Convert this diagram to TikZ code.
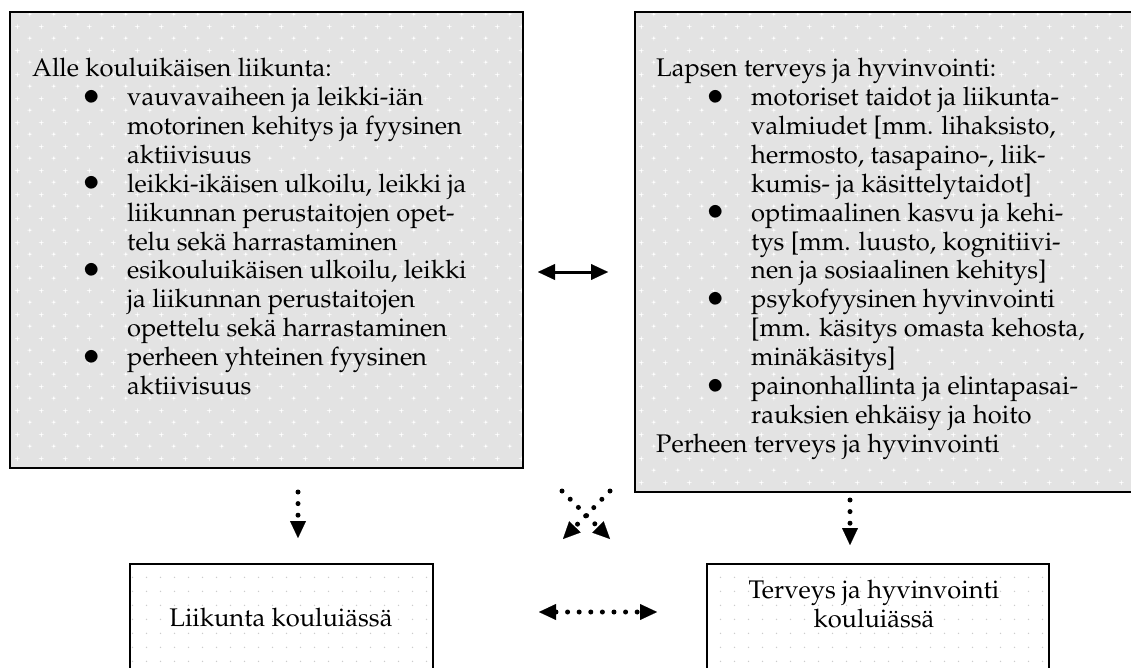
\documentclass[tikz,border=0pt]{standalone}
\usepackage[T1]{fontenc}
\usepackage{mathpazo}
\usetikzlibrary{arrows.meta,patterns.meta}

% light sparkles on the grey boxes
\tikzdeclarepattern{
  name=sparkle, type=uncolored,
  bounding box={(0pt,0pt) and (24pt,24pt)},
  tile size={(24pt,24pt)},
  code={
    \fill (6pt,6pt) circle (1.1pt);
    \fill (18pt,18pt) circle (1.1pt);
    \draw[line width=0.5pt] (3.5pt,6pt) -- (8.5pt,6pt) (6pt,3.5pt) -- (6pt,8.5pt);
    \draw[line width=0.5pt] (15.5pt,18pt) -- (20.5pt,18pt) (18pt,15.5pt) -- (18pt,20.5pt);
  }}
% faint dot grid on the white boxes
\tikzdeclarepattern{
  name=pinpoints, type=uncolored,
  bounding box={(0pt,0pt) and (14pt,14pt)},
  tile size={(14pt,14pt)},
  code={\fill (7pt,7pt) circle (0.8pt);}}

\newcommand\bodyfont{\fontsize{25.5}{28.9}\selectfont}
\newcommand\bigbullet{\raisebox{-3.5pt}{\scalebox{1.45}{\textbullet}}}
\newcommand\bitem{\hspace*{48pt}\makebox[47pt][l]{\bigbullet}}
\newcommand\cont{\hspace*{95pt}}

\tikzset{
  upperbox/.style={draw=black, line width=2.4pt, preaction={fill=gray!22},
    pattern=sparkle, pattern color=white, anchor=north west, inner sep=0pt},
  lowerbox/.style={draw=black, line width=2.2pt, preaction={fill=white},
    pattern=pinpoints, pattern color=gray!40, anchor=north west, inner sep=0pt},
  boxtext/.style={font=\bodyfont, inner sep=0pt, text=black},
  tip/.style={-{Triangle[length=17pt,width=16pt,line width=0.1pt]}},
  bothtips/.style={{Triangle[length=17pt,width=16pt,line width=0.1pt]}-{Triangle[length=17pt,width=16pt,line width=0.1pt]}},
  dotline/.style={line width=5pt, line cap=round, dash pattern=on 0pt off 11.6pt},
  solidline/.style={line width=3pt},
}

\begin{document}
\begin{tikzpicture}[x=1pt,y=-1pt]
\useasboundingbox (0,0) rectangle (1131,668);
\clip (0,0) rectangle (1131,668);

% boxes
\node[upperbox, minimum width=513pt, minimum height=456pt] (A) at (9,11) {};
\node[upperbox, minimum width=530pt, minimum height=480pt] (B) at (634,11) {};
\node[lowerbox, minimum width=303pt, minimum height=140pt] (C) at (129,563) {};
\node[lowerbox, minimum width=342pt, minimum height=140pt] (D) at (706,563) {};

% box texts
\node[boxtext, anchor=north west, align=left] (At) at (32,58) {%
Alle kouluikäisen liikunta:\\
\bitem vauvavaiheen ja leikki-iän\\
\cont motorinen kehitys ja fyysinen\\
\cont aktiivisuus\\
\bitem leikki-ikäisen ulkoilu, leikki ja\\
\cont liikunnan perustaitojen opet-\\
\cont telu sekä harrastaminen\\
\bitem esikouluikäisen ulkoilu, leikki\\
\cont ja liikunnan perustaitojen\\
\cont opettelu sekä harrastaminen\\
\bitem perheen yhteinen fyysinen\\
\cont aktiivisuus};

\node[boxtext, anchor=north west, align=left] (Bt) at (656,58) {%
Lapsen terveys ja hyvinvointi:\\
\bitem motoriset taidot ja liikunta-\\
\cont valmiudet [mm. lihaksisto,\\
\cont hermosto, tasapaino-, liik-\\
\cont kumis- ja käsittelytaidot]\\
\bitem optimaalinen kasvu ja kehi-\\
\cont tys [mm. luusto, kognitiivi-\\
\cont nen ja sosiaalinen kehitys]\\
\bitem psykofyysinen hyvinvointi\\
\cont [mm. käsitys omasta kehosta,\\
\cont minäkäsitys]\\
\bitem painonhallinta ja elintapasai-\\
\cont rauksien ehkäisy ja hoito\\
Perheen terveys ja hyvinvointi};

\node[boxtext] (Ct) at (281,618) {Liikunta kouluiässä};
\node[boxtext, align=center] (Dt) at (874,604) {Terveys ja hyvinvointi\\kouluiässä};

% connector end points
\coordinate (h1) at (538,272);
\coordinate (h2) at (608,272);
\coordinate (l1) at (298,492);
\coordinate (l2) at (298,538);
\coordinate (r1) at (850,500);
\coordinate (r2) at (850,545);
\coordinate (x1) at (610,491);
\coordinate (x2) at (563,539);
\coordinate (x3) at (562,491);
\coordinate (x4) at (610,539);
\coordinate (b1) at (539,612);
\coordinate (b2) at (657,612);

% connectors
\draw[solidline, bothtips] (h1) -- (h2);
\draw[dotline, tip] (l1) -- (l2);
\draw[dotline, tip] (r1) -- (r2);
\draw[dotline, tip] (x1) -- (x2);
\draw[dotline, tip] (x3) -- (x4);
\draw[dotline, bothtips] (b1) -- (b2);
\end{tikzpicture}
\end{document}
